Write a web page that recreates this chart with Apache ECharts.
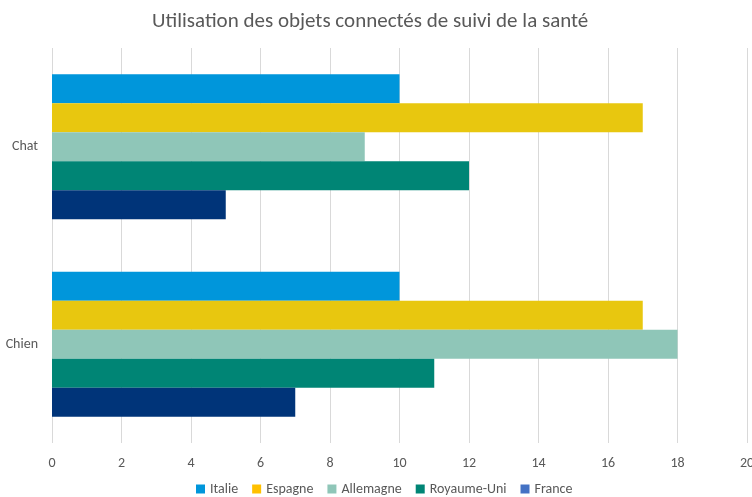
<!DOCTYPE html>
<html><head><meta charset="utf-8">
<script src="https://cdn.jsdelivr.net/npm/echarts@6/dist/echarts.min.js"></script>
<style>html,body{margin:0;padding:0;background:#fff}#c{width:752px;height:497px}</style>
</head><body><div id="c"></div>
<script>
const categories = ['Chien', 'Chat'];
const seriesNames = ['Italie', 'Espagne', 'Allemagne', 'Royaume-Uni', 'France'];
const italie = [10, 10];
const espagne = [17, 17];
const allemagne = [18, 9];
const royaumeUni = [11, 12];
const france = [7, 5];
const xTicks = [0, 2, 4, 6, 8, 10, 12, 14, 16, 18, 20];

const values = [italie, espagne, allemagne, royaumeUni, france];
const barColors = ['#0096DB', '#E8C70F', '#8FC6B8', '#008575', '#003479'];
const legendColors = ['#0096DB', '#FFC000', '#8FC6B8', '#008575', '#4472C4'];
const font = 'Calibri, Carlito, "Open Sans", sans-serif';

const series = seriesNames.map((n, i) => ({
  name: n, type: 'bar', data: values[i],
  barGap: '0%', barCategoryGap: '26.5%',
  itemStyle: { color: barColors[i] },
  emphasis: { disabled: true }
}));

const chart = echarts.init(document.getElementById('c'), null, { renderer: 'canvas' });
chart.setOption({
  animation: false,
  backgroundColor: '#fff',
  title: {
    text: 'Utilisation des objets connectés de suivi de la santé',
    left: 147, top: 6,
    textStyle: { color: '#595959', fontSize: 21, fontWeight: 'normal', fontFamily: font }
  },
  legend: {
    bottom: -4, left: 191, itemWidth: 9, itemHeight: 9, itemGap: 14, icon: 'rect',
    textStyle: { color: '#595959', fontSize: 14, fontFamily: font },
    data: seriesNames.map((n, i) => ({ name: n, itemStyle: { color: legendColors[i] } }))
  },
  grid: { left: 52, right: 5, top: 48, bottom: 54, containLabel: false, outerBoundsMode: 'none' },
  xAxis: {
    type: 'value', min: xTicks[0], max: xTicks[xTicks.length - 1], interval: 2,
    axisLine: { show: false }, axisTick: { show: false },
    splitLine: { lineStyle: { color: '#D9D9D9', width: 1 } },
    axisLabel: { color: '#595959', fontSize: 14, fontFamily: font, margin: 13 }
  },
  yAxis: {
    type: 'category', data: categories,
    axisLine: { show: false }, axisTick: { show: false },
    axisLabel: { color: '#595959', fontSize: 14, fontFamily: font, margin: 14 }
  },
  series: series
});
</script></body></html>
